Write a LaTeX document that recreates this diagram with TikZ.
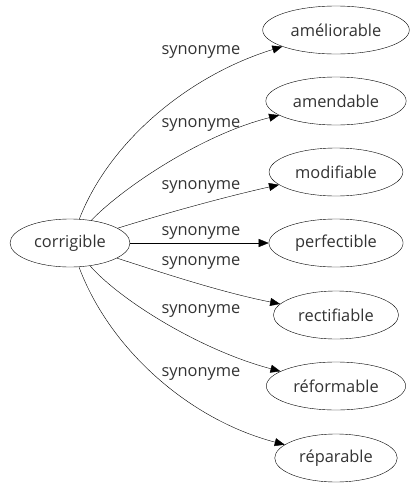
\documentclass[tikz,border=0pt]{standalone}
\usepackage{fontspec}
\setmainfont{Open Sans}
\usetikzlibrary{shapes.geometric,arrows.meta}
\tikzset{
  mot/.style={ellipse, draw, thin, text=black!80, font=\fontsize{16.4}{18}\selectfont, inner xsep=6.5pt, inner ysep=0pt, minimum height=48pt},
  lien/.style={draw, thin, -{Triangle[length=10pt,width=8pt]}},
  etiq/.style={text=black!80, font=\fontsize{16.4}{18}\selectfont, inner sep=0pt}
}
\begin{document}
\begin{tikzpicture}[x=1pt,y=-1pt]
\useasboundingbox (0,0) rectangle (418,491);
\node [mot] (cor) at (70,243) {corrigible};
\node [mot] (ame) at (336,30) {améliorable};
\node [mot] (amd) at (336,101) {amendable};
\node [mot] (mod) at (336,172) {modifiable};
\node [mot] (per) at (336,243) {perfectible};
\node [mot] (rec) at (336,315) {rectifiable};
\node [mot] (ref) at (336,386) {réformable};
\node [mot] (rep) at (336,458) {réparable};
\draw [lien] (cor) .. controls (110,140) and (190,75) .. (ame);
\draw [lien] (cor) .. controls (120,190) and (200,135) .. (amd);
\draw [lien] (cor) .. controls (160,215) and (220,198) .. (mod);
\draw [lien] (cor) -- (per);
\draw [lien] (cor) .. controls (160,272) and (220,292) .. (rec);
\draw [lien] (cor) .. controls (120,300) and (200,350) .. (ref);
\draw [lien] (cor) .. controls (110,350) and (190,420) .. (rep);
\node [etiq] (s1) at (201,52) {synonyme};
\node [etiq] (s2) at (201,125) {synonyme};
\node [etiq] (s3) at (201,187) {synonyme};
\node [etiq] (s4) at (201,233) {synonyme};
\node [etiq] (s5) at (201,263) {synonyme};
\node [etiq] (s6) at (201,311) {synonyme};
\node [etiq] (s7) at (201,374) {synonyme};
\end{tikzpicture}
\end{document}
